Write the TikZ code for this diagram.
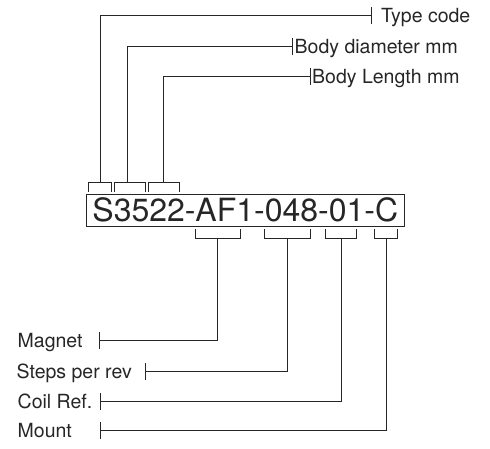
\documentclass[tikz,border=0pt]{standalone}
\usepackage{fontspec}
\setmainfont{TeX Gyre Heros}
\begin{document}
\begin{tikzpicture}[x=1pt,y=-1pt,
  ink/.style={draw=black!85, line width=0.9pt},
  lbl/.style={inner sep=0pt, anchor=base west, text=black!85, font=\fontsize{19.5}{22}\selectfont},
  codebox/.style={ink, inner sep=0pt, minimum width=317.3pt, minimum height=31.7pt,
    text=black!85, font=\fontsize{32}{36}\selectfont}]
\useasboundingbox (0,0) rectangle (490,448);
\node[codebox] (code) at (245.3,210.2) {S3522-AF1-048-01-C};
% upper labels
\node[lbl] (type) at (381,22.2) {Type code};
\node[lbl] (diam) at (294.5,53.9) {Body diameter mm};
\node[lbl] (len) at (312,83.2) {Body Length mm};
% lower labels
\node[lbl] (mag) at (17.5,347.9) {Magnet};
\node[lbl] (steps) at (16.5,378.9) {Steps per rev};
\node[lbl] (coil) at (17.5,408.2) {Coil Ref.};
\node[lbl] (mount) at (17.5,437.2) {Mount};
% tick coordinates
\coordinate (t1) at (371,15);
\coordinate (t2) at (292.3,46.7);
\coordinate (t3) at (310,76);
\coordinate (b1) at (99.3,340.7);
\coordinate (b2) at (145,371.7);
\coordinate (b3) at (100,401);
\coordinate (b4) at (100,430);
% upper brackets
\coordinate (u1) at (100.7,182.3);
\coordinate (u2) at (127.7,182.3);
\coordinate (u3) at (163.3,182.3);
\draw[ink] (88.3,191.7) -- (88.3,182.3) -- (111.7,182.3) -- (111.7,191.7);
\draw[ink] (114.3,191.7) -- (114.3,182.3) -- (145.3,182.3) -- (145.3,191.7);
\draw[ink] (148.3,191.7) -- (148.3,182.3) -- (179,182.3) -- (179,191.7);
\draw[ink] (u1) |- (t1);
\draw[ink] (u2) |- (t2);
\draw[ink] (u3) |- (t3);
% lower brackets
\coordinate (l1) at (217.7,238.3);
\coordinate (l2) at (287.3,238.3);
\coordinate (l3) at (341,238.3);
\coordinate (l4) at (386,238.3);
\draw[ink] (195,229.3) -- (195,238.3) -- (240.3,238.3) -- (240.3,229.3);
\draw[ink] (264.3,229.3) -- (264.3,238.3) -- (310,238.3) -- (310,229.3);
\draw[ink] (325.7,229.3) -- (325.7,238.3) -- (356.7,238.3) -- (356.7,229.3);
\draw[ink] (374.7,229.3) -- (374.7,238.3) -- (397.3,238.3) -- (397.3,229.3);
\draw[ink] (l1) |- (b1);
\draw[ink] (l2) |- (b2);
\draw[ink] (l3) |- (b3);
\draw[ink] (l4) |- (b4);
% ticks
\foreach \t in {t1,t2,t3,b1,b2,b3,b4}
  \draw[ink] ([yshift=-8.5pt]\t) -- ([yshift=8.5pt]\t);
\end{tikzpicture}
\end{document}
